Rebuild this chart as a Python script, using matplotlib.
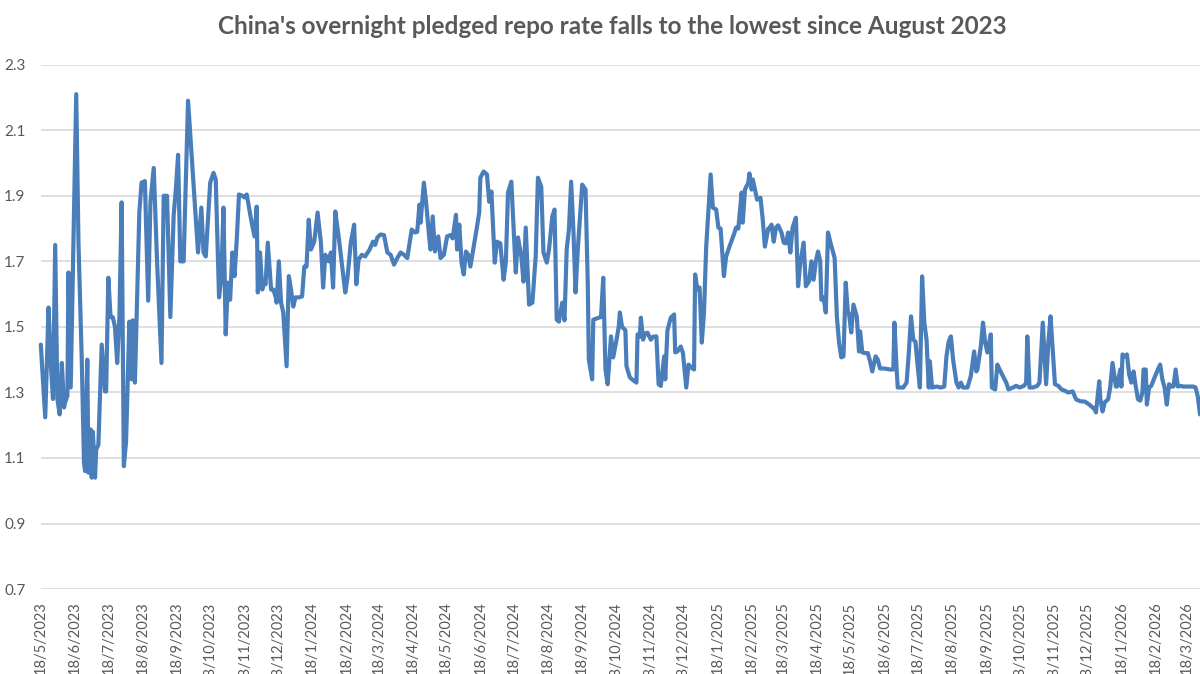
import matplotlib
matplotlib.use("Agg")
import matplotlib.pyplot as plt
import matplotlib.dates as mdates
from matplotlib.ticker import FuncFormatter
import numpy as np
import pandas as pd

# data: days after 18/5/2023, overnight pledged repo rate (%)
start_date = "2023-05-18"
day_offsets = [
    0, 4, 7, 9, 11, 13, 15, 17, 19, 21, 22, 24, 25, 27, 32, 34, 37, 39, 40, 42,
    43, 45, 46, 47, 49, 50, 52, 55, 58, 59, 61, 63, 65, 67, 69, 71, 73, 75, 77, 80,
    82, 83, 85, 89, 91, 94, 97, 99, 102, 105, 109, 111, 114, 117, 120, 122, 124, 126, 129, 133,
    142, 145, 147, 149, 153, 156, 158, 161, 163, 165, 167, 169, 171, 173, 175, 177, 179, 182, 184, 186,
    190, 193, 195, 196, 198, 200, 202, 203, 205, 208, 210, 212, 213, 215, 217, 219, 222, 224, 226, 228,
    230, 233, 236, 238, 240, 242, 244, 247, 250, 253, 255, 257, 260, 262, 264, 266, 269, 275, 277, 280,
    283, 285, 287, 290, 293, 297, 300, 302, 304, 307, 310, 313, 316, 319, 322, 325, 328, 331, 335, 338,
    340, 342, 343, 346, 348, 351, 352, 354, 356, 359, 361, 364, 367, 370, 372, 375, 376, 378, 380, 382,
    384, 386, 388, 391, 394, 396, 397, 400, 403, 405, 407, 410, 412, 415, 418, 420, 422, 425, 429, 431,
    434, 436, 438, 441, 444, 447, 449, 452, 454, 457, 459, 462, 464, 466, 468, 471, 473, 475, 477, 479,
    481, 483, 485, 489, 492, 494, 495, 498, 499, 504, 506, 508, 510, 512, 515, 517, 520, 522, 523, 525,
    528, 529, 532, 534, 538, 539, 541, 542, 544, 546, 548, 551, 553, 556, 558, 560, 563, 564, 566, 569,
    572, 573, 575, 578, 580, 583, 585, 588, 590, 591, 593, 595, 597, 599, 601, 604, 605, 607, 610, 612,
    614, 617, 619, 622, 626, 628, 630, 633, 634, 636, 639, 640, 642, 643, 645, 647, 650, 652, 654, 657,
    658, 660, 662, 664, 666, 669, 671, 673, 675, 677, 679, 682, 684, 686, 689, 691, 694, 696, 698, 700,
    702, 704, 705, 707, 709, 711, 713, 717, 719, 721, 723, 725, 727, 729, 730, 732, 734, 737, 739, 740,
    742, 745, 747, 749, 751, 754, 756, 758, 762, 767, 770, 771, 773, 774, 779, 782, 784, 786, 788, 790,
    792, 794, 796, 798, 800, 802, 803, 805, 809, 813, 816, 818, 820, 822, 824, 827, 829, 831, 833, 837,
    840, 843, 845, 846, 849, 851, 853, 855, 858, 859, 862, 864, 866, 869, 872, 874, 878, 881, 884, 888,
    890, 891, 893, 896, 900, 902, 905, 906, 908, 910, 912, 914, 916, 919, 922, 925, 928, 932, 935, 939,
    943, 947, 952, 953, 956, 957, 959, 961, 964, 966, 968, 971, 972, 975, 976, 977, 979, 981, 983, 985,
    987, 989, 991, 993, 995, 996, 998, 999, 1001, 1003, 1006, 1009, 1011, 1013, 1015, 1017, 1019, 1021, 1023, 1025,
    1027, 1029, 1032, 1035, 1038, 1041, 1043, 1045, 1047,
]
repo_rate = [
    1.446, 1.224, 1.559, 1.39, 1.28, 1.75, 1.28, 1.233, 1.39, 1.254, 1.27, 1.29, 1.666, 1.315, 2.21, 1.76, 1.40, 1.087, 1.06, 1.40,
    1.055, 1.187, 1.04, 1.18, 1.04, 1.126, 1.14, 1.446, 1.303, 1.303, 1.65, 1.53, 1.53, 1.50, 1.39, 1.53, 1.88, 1.075, 1.15, 1.516,
    1.34, 1.52, 1.33, 1.85, 1.94, 1.945, 1.58, 1.88, 1.985, 1.70, 1.39, 1.90, 1.90, 1.53, 1.84, 1.92, 2.025, 1.70, 1.70, 2.19,
    1.727, 1.864, 1.727, 1.715, 1.94, 1.97, 1.95, 1.59, 1.65, 1.864, 1.477, 1.635, 1.583, 1.727, 1.655, 1.767, 1.904, 1.90, 1.895, 1.904,
    1.827, 1.776, 1.867, 1.605, 1.727, 1.614, 1.64, 1.63, 1.757, 1.614, 1.614, 1.593, 1.574, 1.70, 1.574, 1.544, 1.38, 1.655, 1.614, 1.562,
    1.59, 1.59, 1.593, 1.684, 1.684, 1.827, 1.736, 1.76, 1.849, 1.757, 1.62, 1.72, 1.70, 1.727, 1.62, 1.852, 1.776, 1.605, 1.65, 1.757,
    1.812, 1.63, 1.705, 1.72, 1.715, 1.736, 1.76, 1.75, 1.773, 1.782, 1.78, 1.727, 1.72, 1.69, 1.71, 1.727, 1.72, 1.71, 1.797, 1.788,
    1.79, 1.873, 1.818, 1.94, 1.88, 1.767, 1.736, 1.837, 1.73, 1.776, 1.71, 1.72, 1.776, 1.78, 1.77, 1.842, 1.736, 1.812, 1.696, 1.66,
    1.73, 1.72, 1.684, 1.745, 1.806, 1.849, 1.955, 1.974, 1.965, 1.882, 1.913, 1.696, 1.76, 1.755, 1.644, 1.696, 1.91, 1.943, 1.666, 1.773,
    1.715, 1.638, 1.803, 1.568, 1.574, 1.715, 1.955, 1.928, 1.727, 1.696, 1.736, 1.837, 1.858, 1.522, 1.516, 1.574, 1.52, 1.736, 1.797, 1.943,
    1.80, 1.605, 1.736, 1.934, 1.919, 1.635, 1.40, 1.34, 1.522, 1.528, 1.53, 1.65, 1.37, 1.325, 1.471, 1.407, 1.461, 1.50, 1.544, 1.50,
    1.49, 1.38, 1.346, 1.34, 1.33, 1.477, 1.47, 1.528, 1.461, 1.48, 1.482, 1.461, 1.47, 1.471, 1.325, 1.32, 1.41, 1.34, 1.49, 1.528,
    1.538, 1.422, 1.425, 1.44, 1.42, 1.315, 1.385, 1.375, 1.37, 1.66, 1.614, 1.62, 1.452, 1.544, 1.745, 1.91, 1.965, 1.864, 1.858, 1.803,
    1.80, 1.655, 1.715, 1.745, 1.782, 1.803, 1.80, 1.91, 1.818, 1.919, 1.94, 1.968, 1.919, 1.95, 1.92, 1.888, 1.894, 1.83, 1.745, 1.80,
    1.80, 1.812, 1.76, 1.803, 1.81, 1.788, 1.757, 1.755, 1.788, 1.727, 1.803, 1.833, 1.624, 1.696, 1.757, 1.624, 1.64, 1.70, 1.644, 1.70,
    1.73, 1.70, 1.583, 1.59, 1.544, 1.788, 1.76, 1.71, 1.532, 1.452, 1.407, 1.41, 1.635, 1.544, 1.54, 1.483, 1.568, 1.532, 1.425, 1.486,
    1.422, 1.42, 1.42, 1.395, 1.364, 1.41, 1.40, 1.373, 1.373, 1.37, 1.37, 1.513, 1.37, 1.315, 1.315, 1.33, 1.422, 1.532, 1.461, 1.455,
    1.38, 1.315, 1.654, 1.513, 1.461, 1.315, 1.395, 1.315, 1.318, 1.315, 1.318, 1.41, 1.455, 1.471, 1.40, 1.33, 1.315, 1.33, 1.315, 1.315,
    1.35, 1.425, 1.364, 1.37, 1.44, 1.513, 1.452, 1.422, 1.477, 1.315, 1.309, 1.385, 1.37, 1.35, 1.33, 1.309, 1.315, 1.32, 1.315, 1.32,
    1.33, 1.471, 1.315, 1.315, 1.32, 1.33, 1.513, 1.45, 1.325, 1.45, 1.532, 1.43, 1.325, 1.32, 1.309, 1.305, 1.30, 1.303, 1.279, 1.273,
    1.272, 1.263, 1.248, 1.239, 1.334, 1.279, 1.242, 1.27, 1.279, 1.318, 1.39, 1.318, 1.318, 1.37, 1.318, 1.416, 1.41, 1.416, 1.355, 1.33,
    1.364, 1.318, 1.279, 1.275, 1.30, 1.37, 1.37, 1.263, 1.315, 1.32, 1.346, 1.37, 1.385, 1.34, 1.315, 1.263, 1.325, 1.318, 1.318, 1.37,
    1.318, 1.32, 1.318, 1.318, 1.318, 1.318, 1.315, 1.288, 1.233,
]
y_ticks = [0.7, 0.9, 1.1, 1.3, 1.5, 1.7, 1.9, 2.1, 2.3]
title = "China's overnight pledged repo rate falls to the lowest since August 2023"

dates = pd.Timestamp(start_date) + pd.to_timedelta(day_offsets, unit="D")

plt.rcParams["font.family"] = ["Lato", "DejaVu Sans"]

fig = plt.figure(figsize=(12, 6.74), dpi=100)
ax = fig.add_axes([0.034, 0.126, 0.966, 0.778])

ax.plot(dates, repo_rate, color="#4a7ebb", linewidth=3.0,
        solid_joinstyle="round", solid_capstyle="round", clip_on=False)

ax.set_ylim(0.7, 2.3)
ax.set_yticks(y_ticks)
ax.yaxis.set_major_formatter(FuncFormatter(lambda v, p: f"{v:.1f}"))
ax.set_xlim(pd.Timestamp(start_date), pd.Timestamp(start_date) + pd.Timedelta(days=1047))
ax.xaxis.set_major_locator(mdates.MonthLocator(bymonthday=18))
ax.xaxis.set_major_formatter(
    FuncFormatter(lambda v, p: "{d.day}/{d.month}/{d.year}".format(d=mdates.num2date(v)))
)

ax.grid(axis="y", color="#d9d9d9", linewidth=1.2)
ax.set_axisbelow(True)
for s in ax.spines.values():
    s.set_visible(False)
ax.tick_params(axis="both", length=0, colors="#595959")
ax.tick_params(axis="y", pad=11, labelsize=11)
ax.tick_params(axis="x", pad=9, labelsize=10.5)
for lbl in ax.get_xticklabels():
    lbl.set_rotation(90)
    lbl.set_va("top")
    lbl.set_ha("center")

fig.text(0.51, 0.96, title, ha="center", va="center", fontsize=17.5,
         fontweight="bold", color="#595959")

fig.savefig("out.png", dpi=100)
